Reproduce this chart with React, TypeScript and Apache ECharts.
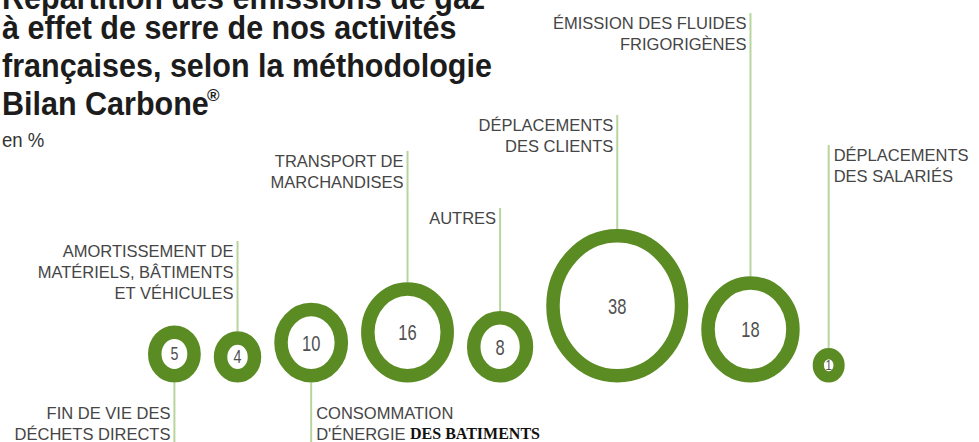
import React, { useEffect, useRef } from "react";
import * as echarts from "echarts";

// ---------- data ----------
const CATEGORIES = [
  "FIN DE VIE DES\nDÉCHETS DIRECTS",
  "AMORTISSEMENT DE\nMATÉRIELS, BÂTIMENTS\nET VÉHICULES",
  "CONSOMMATION\nD'ÉNERGIE",
  "TRANSPORT DE\nMARCHANDISES",
  "AUTRES",
  "DÉPLACEMENTS\nDES CLIENTS",
  "ÉMISSION DES FLUIDES\nFRIGORIGÈNES",
  "DÉPLACEMENTS\nDES SALARIÉS",
];
const VALUES = [5, 4, 10, 16, 8, 38, 18, 1];
const TITLE_LINES = [
  "Répartition des émissions de gaz",
  "à effet de serre de nos activités",
  "françaises, selon la méthodologie",
  "Bilan Carbone",
];
const TITLE_MARK = "®";
const UNIT_LABEL = "en %";
const NOTE_TEXT = "DES BATIMENTS";

// ---------- layout (not data) ----------
const LABEL_SIDE = ["down", "up", "down", "up", "up", "up", "up", "up"];
const LABEL_ALIGN = ["right", "right", "left", "right", "right", "right", "right", "left"];
const LEADER_END = [442, 241, 442, 151, 208, 115, 13, 145];

const W = 979;
const H = 442;
const BASELINE = 382.5;
const START_X = 148;
const GAP = 13;
const STRETCH = 1.08;
const GREEN = "#5b8c24";
const LEADER = "#b9d59e";
const LABEL_COLOR = "#454545";
const SANS = "'Liberation Sans', Arial, Helvetica, sans-serif";
const TITLE_SCALE = 0.925;

const radiusOf = (v: number) => Math.max(16, 11.36 * Math.sqrt(v) + 1);
const ringOf = (r: number) => Math.min(13.5, r * 0.7);

// pack circles side by side, left to right
const positions: number[] = [];
{
  let edge = START_X;
  VALUES.forEach((v) => {
    const r = radiusOf(v);
    positions.push(edge + r);
    edge += 2 * r + GAP;
  });
}

export default function App() {
  const ref = useRef<HTMLDivElement>(null);
  useEffect(() => {
    if (!ref.current) return;
    const chart = echarts.init(ref.current, null, { renderer: "svg" });

    const titleGraphics: any[] = TITLE_LINES.map((t, i) => ({
      type: "text",
      x: 2,
      y: [9, 39, 77, 115][i] - 0.3465 * 33,
      scaleX: TITLE_SCALE,
      style: {
        text: t,
        fontSize: 33,
        fontWeight: "bold",
        fontFamily: SANS,
        fill: "#1c1c1c",
        verticalAlign: "middle",
        align: "left",
      },
    }));

    const option: any = {
      animation: false,
      backgroundColor: "#ffffff",
      grid: { left: 0, right: 0, top: 0, bottom: 0 },
      xAxis: { type: "value", min: 0, max: W, show: false },
      yAxis: { type: "value", min: 0, max: H, inverse: true, show: false },
      graphic: [
        ...titleGraphics,
        {
          type: "text",
          x: 207,
          y: 95,
          style: {
            text: TITLE_MARK,
            fontSize: 17,
            fontWeight: "bold",
            fontFamily: SANS,
            fill: "#1c1c1c",
            verticalAlign: "middle",
          },
        },
        {
          type: "text",
          x: 2,
          y: 147 - 0.3465 * 20,
          scaleX: 0.93,
          style: {
            text: UNIT_LABEL,
            fontSize: 20,
            fontFamily: SANS,
            fill: "#333333",
            verticalAlign: "middle",
          },
        },
        {
          type: "text",
          x: 410,
          y: 438.5 - 0.3375 * 16,
          style: {
            text: NOTE_TEXT,
            fontSize: 16,
            fontWeight: "bold",
            fontFamily: "'Liberation Serif', 'Times New Roman', serif",
            fill: "#111111",
            verticalAlign: "middle",
          },
        },
      ],
      series: [
        {
          type: "custom",
          coordinateSystem: "cartesian2d",
          data: VALUES.map((v, i) => [positions[i], v, i]),
          renderItem: (params: any, api: any) => {
            const i = params.dataIndex;
            const v = api.value(1);
            const rx = radiusOf(v);
            const ry = rx * STRETCH;
            const ring = ringOf(rx);
            const [px, base] = api.coord([api.value(0), BASELINE]);
            const cy = base - ry;
            const endY = api.coord([0, LEADER_END[i]])[1];
            const up = LABEL_SIDE[i] === "up";
            const alignRight = LABEL_ALIGN[i] === "right";
            const lineStart = up ? cy - ry : base;
            const textTop = up ? endY - 1 : base + 19.5;
            const numSize = rx > 30 ? 22 : rx > 20 ? 19 : 15;
            return {
              type: "group",
              children: [
                {
                  type: "line",
                  shape: { x1: px, y1: lineStart, x2: px, y2: endY },
                  style: { stroke: LEADER, lineWidth: 2 },
                },
                {
                  type: "ellipse",
                  shape: { cx: px, cy, rx: rx - ring / 2, ry: ry - ring / 2 },
                  style: { fill: "#ffffff", stroke: GREEN, lineWidth: ring },
                },
                {
                  type: "text",
                  x: px,
                  y: cy,
                  scaleX: 0.75,
                  style: {
                    text: String(v),
                    fontSize: numSize,
                    fontFamily: SANS,
                    fill: "#505050",
                    align: "center",
                    verticalAlign: "middle",
                  },
                },
                {
                  type: "text",
                  x: alignRight ? px - 4 : px + 5,
                  y: textTop,
                  style: {
                    text: CATEGORIES[i],
                    fontSize: 16.5,
                    lineHeight: 21,
                    fontFamily: SANS,
                    fill: LABEL_COLOR,
                    align: alignRight ? "right" : "left",
                    verticalAlign: "top",
                  },
                },
              ],
            };
          },
        },
      ],
    };
    chart.setOption(option);
    return () => chart.dispose();
  }, []);

  return (
    <div
      ref={ref}
      style={{ position: "fixed", left: 0, top: 0, width: W, height: H, background: "#fff" }}
    />
  );
}
